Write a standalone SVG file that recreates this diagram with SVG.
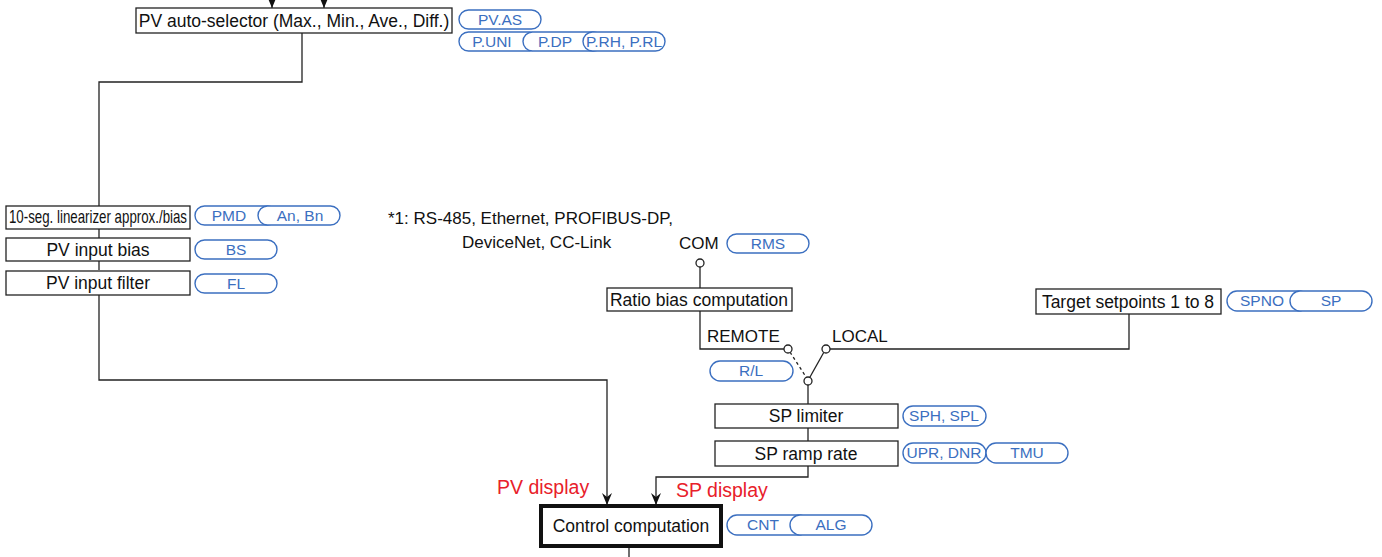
<svg xmlns="http://www.w3.org/2000/svg" width="1382" height="557" viewBox="0 0 1382 557">
<style>
.bx{fill:#fff;stroke:#222;stroke-width:1.3}
.bt{font-family:"Liberation Sans",Arial,sans-serif;font-size:17.5px;fill:#111;text-anchor:middle}
.pl{fill:#fff;stroke:#3b6fc0;stroke-width:1.4}
.pt{font-family:"Liberation Sans",Arial,sans-serif;font-size:15.5px;fill:#3b6fc0;text-anchor:middle}
.ln{fill:none;stroke:#222;stroke-width:1.3}
.tx{font-family:"Liberation Sans",Arial,sans-serif;font-size:17px;fill:#111}
.rd{font-family:"Liberation Sans",Arial,sans-serif;font-size:19.5px;fill:#e8202a}
.ci{fill:#fff;stroke:#222;stroke-width:1.3}
</style>
<defs>
<marker id="ar" markerWidth="12" markerHeight="10" refX="12" refY="5" orient="auto" markerUnits="userSpaceOnUse" viewBox="0 0 12 10">
<path d="M0,0 L12,5 L0,10 L4,5 Z" fill="#111"/>
</marker>
</defs>
<rect width="1382" height="557" fill="#fff"/>
<g id="connectors">
<line class="ln" x1="272" y1="0" x2="272" y2="8" marker-end="url(#ar)"/>
<line class="ln" x1="324" y1="0" x2="324" y2="8" marker-end="url(#ar)"/>
<polyline class="ln" points="302,33 302,82 99,82 99,206"/>
<line class="ln" x1="99" y1="228" x2="99" y2="238"/>
<line class="ln" x1="99" y1="261" x2="99" y2="270"/>
<polyline class="ln" points="99,295 99,380 607,380 607,505" marker-end="url(#ar)"/>
<line class="ln" x1="700" y1="267" x2="700" y2="288"/>
<polyline class="ln" points="700,311 700,349 784,349"/>
<polyline class="ln" points="830,349 1129,349 1129,314"/>
<line class="ln" x1="790" y1="352" x2="806" y2="377" stroke-dasharray="3,3"/>
<line class="ln" x1="824" y1="352" x2="810" y2="377"/>
<line class="ln" x1="808" y1="385" x2="808" y2="404"/>
<line class="ln" x1="808" y1="428" x2="808" y2="441"/>
<polyline class="ln" points="808,466 808,477 656,477 656,505" marker-end="url(#ar)"/>
<line class="ln" x1="629" y1="547" x2="629" y2="557"/>
</g>
<g id="n-pvauto">
<rect class="bx" x="136" y="8" width="316" height="25"/>
<text class="bt" x="294" y="27" font-size="17">PV auto-selector (Max., Min., Ave., Diff.)</text>
</g>
<g id="p-pvas">
<rect class="pl" x="459" y="10" width="82" height="19" rx="9.5"/>
<text class="pt" x="500" y="25">PV.AS</text>
</g>
<g id="p-puni">
<rect class="pl" x="459" y="32" width="80" height="19" rx="9.5"/>
<text class="pt" x="492" y="47">P.UNI</text>
</g>
<g id="p-pdp">
<rect class="pl" x="523" y="32" width="80" height="19" rx="9.5"/>
<text class="pt" x="555" y="47">P.DP</text>
</g>
<g id="p-prh">
<rect class="pl" x="583" y="32" width="82" height="19" rx="9.5"/>
<text class="pt" x="624" y="47">P.RH, P.RL</text>
</g>
<g id="n-lin">
<rect class="bx" x="6" y="206" width="184" height="23"/>
<text class="bt" transform="translate(98,223) scale(0.76,1)" x="0" y="0">10-seg. linearizer approx./bias</text>
</g>
<g id="p-pmd">
<rect class="pl" x="195" y="206" width="82" height="19" rx="9.5"/>
<text class="pt" x="229" y="221">PMD</text>
</g>
<g id="p-anbn">
<rect class="pl" x="258" y="206" width="82" height="19" rx="9.5"/>
<text class="pt" x="300" y="221">An, Bn</text>
</g>
<g id="n-bias">
<rect class="bx" x="6" y="238" width="184" height="23"/>
<text class="bt" x="98" y="256">PV input bias</text>
</g>
<g id="p-bs">
<rect class="pl" x="195" y="240" width="82" height="19" rx="9.5"/>
<text class="pt" x="236" y="255">BS</text>
</g>
<g id="n-filter">
<rect class="bx" x="6" y="271" width="184" height="24"/>
<text class="bt" x="98" y="289">PV input filter</text>
</g>
<g id="p-fl">
<rect class="pl" x="195" y="274" width="82" height="19" rx="9.5"/>
<text class="pt" x="236" y="289">FL</text>
</g>
<g id="note">
<text class="tx" x="388" y="224">*1: RS-485, Ethernet, PROFIBUS-DP,</text>
<text class="tx" x="462" y="248">DeviceNet, CC-Link</text>
</g>
<g id="n-com">
<text class="tx" x="679" y="249">COM</text>
<circle class="ci" cx="700" cy="263" r="4"/>
</g>
<g id="p-rms">
<rect class="pl" x="727" y="234" width="82" height="19" rx="9.5"/>
<text class="pt" x="768" y="249">RMS</text>
</g>
<g id="n-ratio">
<rect class="bx" x="607" y="288" width="185" height="23"/>
<text class="bt" x="699" y="306">Ratio bias computation</text>
</g>
<g id="n-target">
<rect class="bx" x="1036" y="289" width="185" height="25"/>
<text class="bt" x="1128" y="308">Target setpoints 1 to 8</text>
</g>
<g id="p-spno">
<rect class="pl" x="1227" y="291" width="82" height="20" rx="10"/>
<text class="pt" x="1262" y="306">SPNO</text>
</g>
<g id="p-sp">
<rect class="pl" x="1290" y="291" width="82" height="20" rx="10"/>
<text class="pt" x="1331" y="306">SP</text>
</g>
<g id="n-switch">
<text class="tx" x="707" y="342">REMOTE</text>
<text class="tx" x="832" y="342">LOCAL</text>
<circle class="ci" cx="788" cy="349" r="4"/>
<circle class="ci" cx="826" cy="349" r="4"/>
<circle class="ci" cx="808" cy="381" r="4"/>
</g>
<g id="p-rl">
<rect class="pl" x="710" y="361" width="83" height="20" rx="10"/>
<text class="pt" x="751" y="376">R/L</text>
</g>
<g id="n-splim">
<rect class="bx" x="715" y="404" width="183" height="24"/>
<text class="bt" x="806" y="422">SP limiter</text>
</g>
<g id="p-sph">
<rect class="pl" x="903" y="406" width="83" height="20" rx="10"/>
<text class="pt" x="944" y="421">SPH, SPL</text>
</g>
<g id="n-spramp">
<rect class="bx" x="715" y="441" width="183" height="25"/>
<text class="bt" x="806" y="460">SP ramp rate</text>
</g>
<g id="p-upr">
<rect class="pl" x="903" y="443" width="83" height="20" rx="10"/>
<text class="pt" x="944" y="458">UPR, DNR</text>
</g>
<g id="p-tmu">
<rect class="pl" x="986" y="443" width="82" height="20" rx="10"/>
<text class="pt" x="1027" y="458">TMU</text>
</g>
<g id="labels">
<text class="rd" x="497" y="494">PV display</text>
<text class="rd" x="676" y="497">SP display</text>
</g>
<g id="n-control">
<rect x="541" y="506" width="180" height="40" fill="#fff" stroke="#111" stroke-width="4"/>
<text class="bt" x="631" y="532">Control computation</text>
</g>
<g id="p-cnt">
<rect class="pl" x="727" y="515" width="82" height="20" rx="10"/>
<text class="pt" x="763" y="530">CNT</text>
</g>
<g id="p-alg">
<rect class="pl" x="790" y="515" width="82" height="20" rx="10"/>
<text class="pt" x="831" y="530">ALG</text>
</g>
</svg>
